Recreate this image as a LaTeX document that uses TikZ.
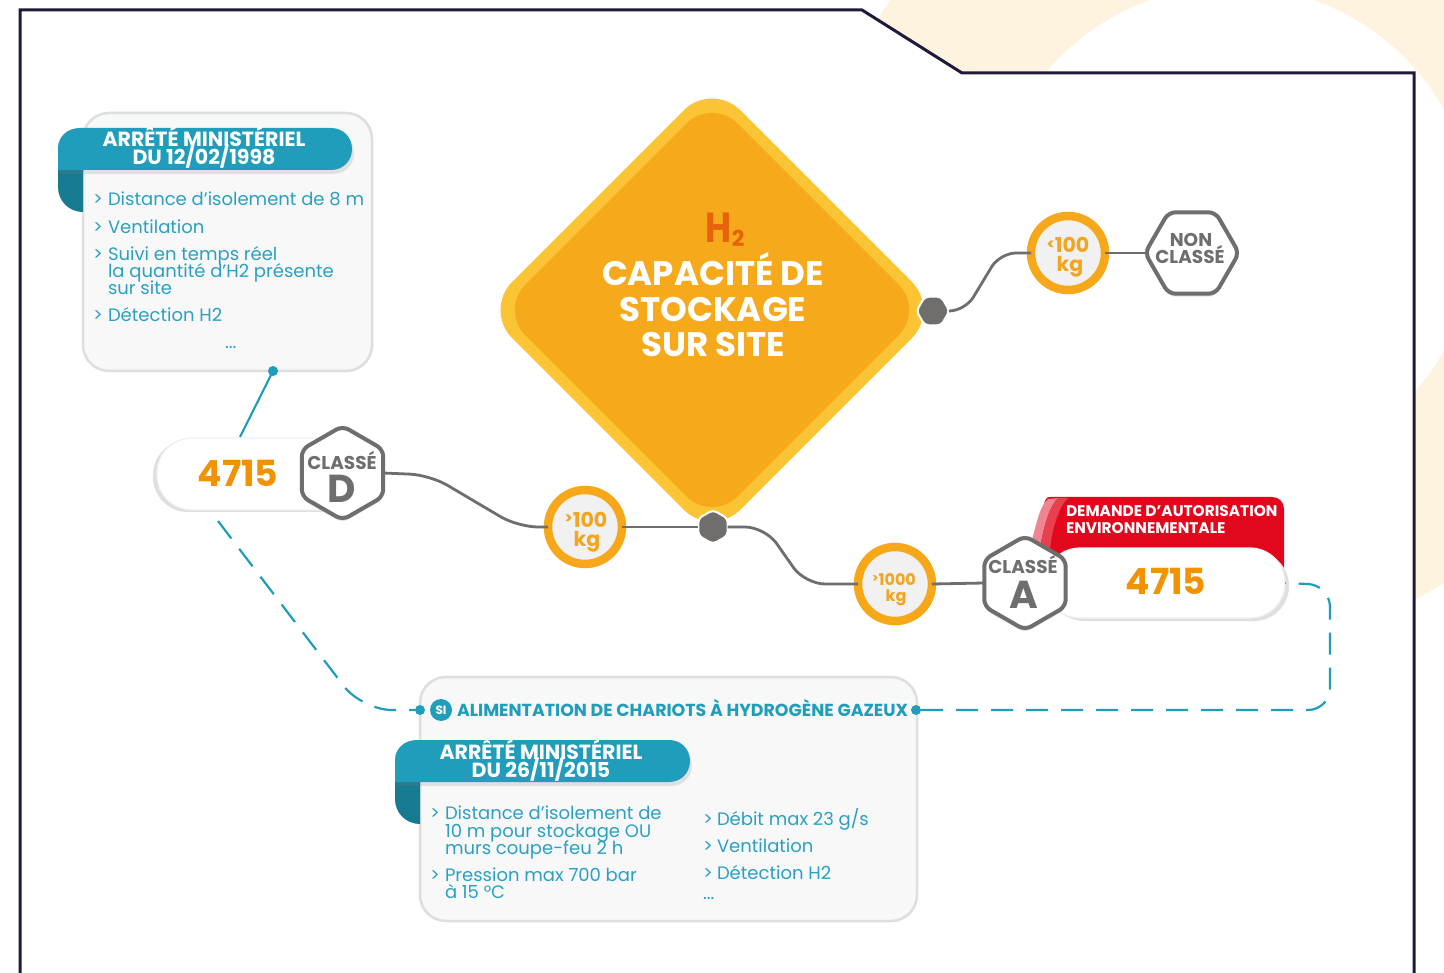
\documentclass[tikz,border=0pt]{standalone}
\usepackage{fontspec}
\setmainfont{Poppins}
\usetikzlibrary{shapes.geometric,shadows}
\definecolor{navy}{HTML}{1E1B3A}
\definecolor{cream}{HTML}{FEF3DE}
\definecolor{tealc}{HTML}{1F9DBB}
\definecolor{tealdark}{HTML}{167A90}
\definecolor{tealtext}{HTML}{2AA0C2}
\definecolor{boxfill}{HTML}{F8F8F8}
\definecolor{boxline}{HTML}{DEDEDE}
\definecolor{grayc}{HTML}{6F6E6D}
\definecolor{orangec}{HTML}{F39200}
\definecolor{ringc}{HTML}{F6A81A}
\definecolor{ringtxtc}{HTML}{F3A51F}
\definecolor{ringfill}{HTML}{F1F1F1}
\definecolor{dlight}{HTML}{FBC434}
\definecolor{dmain}{HTML}{F6A91B}
\definecolor{h2c}{HTML}{E8620C}
\definecolor{redc}{HTML}{E2071D}
\definecolor{pinkA}{HTML}{F08591}
\definecolor{pinkB}{HTML}{E8404F}
\begin{document}
\begin{tikzpicture}[x=1pt,y=-1pt,
 every node/.style={inner sep=0pt,outer sep=0pt},
 infobox/.style={rectangle, draw=boxline, line width=2.5pt, fill=boxfill, rounded corners=26pt},
 bighex/.style={regular polygon, regular polygon sides=6, minimum size=94pt, draw=grayc, line width=4pt, fill=white, rounded corners=7pt, drop shadow={opacity=0.22, shadow xshift=0pt, shadow yshift=-3pt}},
 ringnode/.style={circle, draw=ringc, line width=8.5pt, fill=ringfill, minimum size=74pt},
 smallhex/.style={regular polygon, regular polygon sides=6, fill=grayc, draw=white, line width=2pt, rounded corners=4pt},
 pillnode/.style={rectangle, fill=white, draw=gray!12, line width=1.2pt, rounded corners=35pt, minimum height=72pt},
 conn/.style={draw=grayc, line width=2.8pt, rounded corners=20pt},
 dashc/.style={draw=tealc, line width=2.2pt, dash pattern=on 22pt off 13pt, rounded corners=30pt},
 tealline/.style={draw=tealc, line width=2.2pt},
 tdot/.style={circle, fill=tealc, minimum size=10pt},
 itemtxt/.style={anchor=base west, text=tealtext, font=\fontsize{18}{19}\selectfont},
 bannertxt/.style={anchor=base, text=white, font=\bfseries\fontsize{20.5}{21}\selectfont},
 hextxt/.style={anchor=base, text=grayc, font=\bfseries\fontsize{18.5}{19}\selectfont},
 hexletter/.style={anchor=base, text=grayc, font=\bfseries\fontsize{39}{39}\selectfont},
 numtxt/.style={anchor=base, text=orangec, font=\bfseries\fontsize{36}{36}\selectfont},
 ringtxt/.style={anchor=base, text=ringtxtc, font=\bfseries\fontsize{20.5}{21}\selectfont},
 diatxt/.style={anchor=base, text=white, font=\bfseries\fontsize{34}{34}\selectfont},
 redtxt/.style={anchor=base west, text=white, font=\bfseries\fontsize{15.4}{16}\selectfont},
]
\useasboundingbox (0,0) rectangle (1444,973);
% background ring and frame
\fill[cream, even odd rule] (1232,230) circle[radius=412] (1232,230) circle[radius=244];
\fill[white] (20,990) -- (20,10) -- (862,10) -- (962,73) -- (1414,73) -- (1414,990) -- cycle;
\draw[navy, line width=3pt] (20,990) -- (20,10) -- (862,10) -- (962,73) -- (1414,73) -- (1414,990);

% ---- top-left box
\node[infobox, minimum width=289pt, minimum height=258pt] (box1) at (227.5,242) {};
\fill[tealdark] (83,150) -- (58,150) -- (58,187) .. controls (58,201) and (69,212) .. (83,212) -- cycle;
\fill[tealc, drop shadow={opacity=0.2, shadow xshift=2pt, shadow yshift=-4pt}] (58,170) -- (58,148) .. controls (58,137) and (67,128) .. (80,128) -- (331,128) .. controls (343,128) and (352,137) .. (352,149) .. controls (352,161) and (343,170) .. (331,170) -- cycle;
\node[bannertxt] (b1a) at (204,147) {ARRÊTÉ MINISTÉRIEL};
\node[bannertxt] (b1b) at (204,165) {DU 12/02/1998};
\node[itemtxt] (i1g) at (93,206) {>};
\node[itemtxt] (i1) at (108,206) {Distance d’isolement de 8 m};
\node[itemtxt] (i2g) at (93,234) {>};
\node[itemtxt] (i2) at (108,234) {Ventilation};
\node[itemtxt] (i3g) at (93,261) {>};
\node[itemtxt] (i3) at (108,261) {Suivi en temps réel};
\node[itemtxt] (i3b) at (108,278) {la quantité d’H2 présente};
\node[itemtxt] (i3c) at (108,295) {sur site};
\node[itemtxt] (i4g) at (93,322) {>};
\node[itemtxt] (i4) at (108,322) {Détection H2};
\node[itemtxt] (i5) at (225,349) {...};

% ---- bottom box
\node[infobox, minimum width=497pt, minimum height=244pt] (box2) at (668.5,799) {};
\fill[tealdark] (420,762) -- (395,762) -- (395,799) .. controls (395,813) and (406,824) .. (420,824) -- cycle;
\fill[tealc, drop shadow={opacity=0.2, shadow xshift=2pt, shadow yshift=-4pt}] (395,782) -- (395,760) .. controls (395,749) and (404,740) .. (417,740) -- (669,740) .. controls (681,740) and (690,749) .. (690,761) .. controls (690,773) and (681,782) .. (669,782) -- cycle;
\node[bannertxt] (b2a) at (541,759) {ARRÊTÉ MINISTÉRIEL};
\node[bannertxt] (b2b) at (541,777) {DU 26/11/2015};
\node[tdot] (dotL) at (420,710) {};
\node[tdot] (dotR) at (916,710) {};
\node[circle, fill=tealc, minimum size=22pt, text=white, font=\bfseries\fontsize{12}{12}\selectfont] (si) at (441,710) {SI};
\node[anchor=base west, text=tealc, font=\bfseries\fontsize{17.4}{18}\selectfont] (title) at (457,716) {ALIMENTATION DE CHARIOTS À HYDROGÈNE GAZEUX};
\node[itemtxt] (j1g) at (430,819) {>};
\node[itemtxt] (j1) at (445,819) {Distance d’isolement de};
\node[itemtxt] (j1b) at (445,837) {10 m pour stockage OU};
\node[itemtxt] (j1c) at (445,854) {murs coupe-feu 2 h};
\node[itemtxt] (j2g) at (430,881) {>};
\node[itemtxt] (j2) at (445,881) {Pression max 700 bar};
\node[itemtxt] (j2b) at (445,898) {à 15 °C};
\node[itemtxt] (k1g) at (703,825) {>};
\node[itemtxt] (k1) at (717,825) {Débit max 23 g/s};
\node[itemtxt] (k2g) at (703,852) {>};
\node[itemtxt] (k2) at (717,852) {Ventilation};
\node[itemtxt] (k3g) at (703,879) {>};
\node[itemtxt] (k3) at (717,879) {Détection H2};
\node[itemtxt] (k4) at (703,899) {...};

% ---- diamond
\node[diamond, minimum width=456pt, minimum height=456pt, fill=dlight, rounded corners=40pt] (cap) at (712,310) {};
\node[diamond, minimum width=424pt, minimum height=424pt, fill=dmain, rounded corners=36pt] (capin) at (712,310) {};
\node[anchor=base, text=h2c, font=\bfseries\fontsize{42}{42}\selectfont] (h2) at (725,243) {\scalebox{0.85}[1]{H}\raisebox{-4pt}{\fontsize{22}{22}\selectfont 2}};
\node[diatxt] (d1) at (713,286) {CAPACITÉ DE};
\node[diatxt] (d2) at (713,322) {STOCKAGE};
\node[diatxt] (d3) at (713,357) {SUR SITE};

% ---- pill D
\node[pillnode, minimum width=200pt, drop shadow={fill=gray!25, opacity=1, shadow xshift=-4pt, shadow yshift=-2pt}] (pD) at (257,474) {};
\node[numtxt] (nD) at (238,487) {4715};
\node[bighex, shape border rotate=30] (hexD) at (342.5,473) {};
\node[hextxt] (hD1) at (342,470) {CLASSÉ};
\node[hexletter] (hD2) at (342,503) {D};

% ---- red banner + pill A
\fill[redc] (1027,560) -- (1045,501) .. controls (1046,498) and (1047,497) .. (1051,497) -- (1272,497) .. controls (1279,497) and (1284,502) .. (1284,509) -- (1284,575) -- cycle;
\fill[pinkA] (1030,548) .. controls (1036,525) and (1040,505) .. (1048,499) -- (1058,498) .. controls (1050,505) and (1044,525) .. (1040,548) -- cycle;
\fill[pinkB] (1040,548) .. controls (1044,525) and (1050,505) .. (1058,498) -- (1068,498) .. controls (1060,505) and (1053,525) .. (1050,548) -- cycle;
\node[redtxt] (r1) at (1066,517) {DEMANDE D’AUTORISATION};
\node[redtxt] (r2) at (1066,533) {ENVIRONNEMENTALE};
\node[pillnode, minimum width=240pt, minimum height=70pt, drop shadow={fill=gray!25, opacity=1, shadow xshift=4pt, shadow yshift=-3pt}] (pA) at (1165,583) {};
\node[numtxt] (nA) at (1166,594) {4715};
\node[bighex, shape border rotate=30] (hexA) at (1025,583) {};
\node[hextxt] (hA1) at (1023,573) {CLASSÉ};
\node[hexletter] (hA2) at (1024,608) {A};

% ---- non classé
\node[bighex] (hexN) at (1192,253) {};
\node[hextxt] (hN1) at (1191,247) {NON};
\node[hextxt] (hN2) at (1190,264) {CLASSÉ};

% ---- circles
\node[ringnode] (c1) at (585,527) {};
\node[ringtxt] (c1a) at (586,527) {\raisebox{4pt}{\fontsize{15}{15}\selectfont >}100};
\node[ringtxt] (c1b) at (587,547) {kg};
\node[ringnode] (c2) at (895,584) {};
\node[ringtxt, font=\bfseries\fontsize{16}{16}\selectfont] (c2a) at (894,585) {\raisebox{3pt}{\fontsize{12}{12}\selectfont >}1000};
\node[ringtxt, font=\bfseries\fontsize{16}{16}\selectfont] (c2b) at (896,601) {kg};
\node[ringnode] (c3) at (1068,253) {};
\node[ringtxt] (c3a) at (1068,253) {\raisebox{3pt}{\fontsize{15}{15}\selectfont <}100};
\node[ringtxt] (c3b) at (1070,272) {kg};

% ---- small hexes
\node[smallhex, shape border rotate=30, minimum size=34pt] (sh1) at (713,527) {};
\node[smallhex, minimum size=33pt] (sh2) at (933,311) {};

% ---- connectors
\draw[conn] (hexD.east) -- (430,475) -- (518,527) -- (c1.west);
\draw[conn] (c1.east) -- (sh1.west);
\draw[conn] (sh1.east) -- (765,527) -- (805,584) -- (c2.west);
\draw[conn] (c2.east) -- (hexA.west);
\draw[conn, rounded corners=16pt] (sh2.east) -- (965,311) -- (1000,253) -- (c3.west);
\draw[conn] (c3.east) -- (hexN.west);

% ---- teal links
\node[tdot] (dotT) at (273,371) {};
\coordinate (pDtop) at (240,437);
\draw[tealline] (dotT.center) -- (pDtop);
\coordinate (pDbot) at (218,521);
\draw[dashc] (pDbot) -- (362,710) -- (dotL);
\draw[dashc, rounded corners=22pt] (dotR) -- (1330,710) -- (1330,585) -- (pA.east);
\end{tikzpicture}
\end{document}
